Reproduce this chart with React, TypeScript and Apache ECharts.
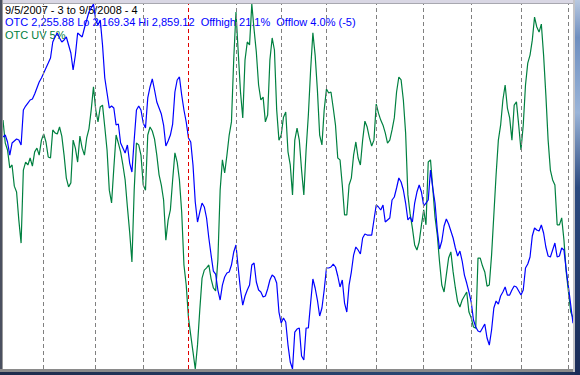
import React, { useEffect, useRef } from "react";
import * as echarts from "echarts";

// OTC (Nasdaq Composite) daily closes, 9/5/2007 .. 9/5/2008
const otcValues = [
  2607.8, 2611.5, 2598.3, 2573.7, 2596.4, 2600.2, 2604.0, 2602.1, 2592.6, 2658.8,
  2666.3, 2672.0, 2677.7, 2679.6, 2689.0, 2700.4, 2711.7, 2719.3, 2728.7, 2738.2,
  2747.6, 2757.1, 2787.3, 2796.8, 2804.3, 2794.9, 2787.3, 2791.1, 2796.8, 2781.6,
  2766.5, 2734.4, 2762.7, 2804.3, 2800.5, 2796.8, 2813.8, 2828.9, 2844.0, 2851.6,
  2859.12, 2828.9, 2819.4, 2828.9, 2781.6, 2719.3, 2690.9, 2662.6, 2666.3, 2662.6,
  2630.4, 2632.3, 2596.4, 2587.0, 2577.5, 2592.6, 2558.6, 2541.6, 2602.1, 2658.8,
  2666.3, 2658.8, 2634.2, 2624.8, 2681.5, 2702.3, 2717.4, 2696.6, 2673.9, 2662.6,
  2651.2, 2630.4, 2590.8, 2600.2, 2611.5, 2632.3, 2692.8, 2715.5, 2721.2, 2687.1,
  2658.8, 2636.1, 2605.9, 2598.3, 2554.8, 2484.9, 2447.1, 2466.0, 2483.0, 2475.5,
  2454.7, 2416.9, 2384.7, 2354.5, 2348.8, 2318.6, 2299.7, 2328.0, 2343.2, 2350.7,
  2352.6, 2365.8, 2390.4, 2403.6, 2360.2, 2318.6, 2290.2, 2307.3, 2318.6, 2328.0,
  2365.8, 2369.6, 2333.7, 2318.6, 2314.8, 2305.4, 2307.3, 2320.5, 2337.5, 2346.9,
  2343.2, 2331.8, 2277.0, 2256.2, 2265.7, 2258.1, 2214.6, 2182.5, 2169.34, 2239.2,
  2244.9, 2246.8, 2193.9, 2186.3, 2246.8, 2246.8, 2294.0, 2339.4, 2322.4, 2299.7,
  2269.5, 2284.6, 2318.6, 2360.2, 2360.2, 2362.1, 2367.7, 2362.1, 2345.1, 2324.3,
  2337.5, 2294.0, 2277.0, 2328.0, 2352.6, 2384.7, 2399.9, 2394.2, 2386.6, 2416.9,
  2424.4, 2422.5, 2422.5, 2422.5, 2450.9, 2479.2, 2475.5, 2469.8, 2479.2, 2447.1,
  2450.9, 2454.7, 2488.7, 2494.4, 2511.4, 2530.3, 2522.7, 2507.6, 2483.0, 2450.9,
  2456.6, 2447.1, 2483.0, 2503.8, 2517.0, 2503.8, 2477.4, 2483.0, 2488.7, 2545.4,
  2511.4, 2483.0, 2432.0, 2396.1, 2411.2, 2439.6, 2452.8, 2443.3, 2430.1, 2416.9,
  2398.0, 2382.9, 2392.3, 2373.4, 2346.9, 2331.8, 2314.8, 2295.9, 2261.9, 2248.7,
  2241.1, 2239.2, 2246.8, 2254.3, 2227.9, 2214.6, 2243.0, 2284.6, 2297.8, 2292.1,
  2307.3, 2314.8, 2324.3, 2309.1, 2309.1, 2318.6, 2326.2, 2324.3, 2316.7, 2309.1,
  2318.6, 2360.2, 2367.7, 2381.0, 2420.7, 2435.8, 2432.0, 2430.1, 2441.4, 2426.3,
  2399.9, 2382.9, 2381.0, 2394.2, 2407.4, 2381.0, 2382.9, 2398.0, 2394.2, 2356.4,
  2324.3, 2290.2, 2255.88,
];

// OTC upside volume 5% EMA, scaled 0..100 of its range
const uvValues = [
  68.2, 61.9, 60.0, 55.1, 55.9, 50.1, 48.5, 40.8, 34.5, 54.5,
  56.7, 55.9, 57.8, 55.6, 59.5, 60.5, 58.6, 62.7, 64.4, 62.2,
  58.1, 57.8, 65.5, 64.7, 64.4, 66.3, 63.8, 58.6, 52.3, 49.9,
  51.0, 62.7, 60.5, 56.7, 63.8, 60.5, 58.6, 63.3, 65.8, 71.0,
  77.3, 71.0, 67.7, 71.8, 72.3, 66.3, 60.0, 49.0, 45.5, 55.1,
  64.1, 61.9, 59.5, 55.9, 51.8, 44.4, 37.5, 29.3, 49.0, 61.9,
  61.4, 58.6, 50.4, 49.0, 64.1, 66.3, 65.2, 63.0, 58.6, 53.2,
  50.4, 46.3, 35.3, 40.8, 43.6, 51.8, 59.2, 56.7, 51.8, 43.0,
  28.5, 23.0, 14.0, 9.3, 4.7, 0.0, 6.6, 16.2, 24.9, 27.1,
  27.7, 28.5, 24.7, 22.2, 21.4, 29.9, 49.0, 57.3, 53.7, 58.6,
  64.1, 67.7, 84.7, 97.8, 86.8, 75.9, 68.8, 84.7, 89.6, 88.8,
  100.0, 93.0, 86.8, 77.8, 73.7, 74.5, 67.7, 69.6, 84.7, 90.7,
  87.4, 71.0, 62.7, 64.1, 69.0, 70.4, 59.5, 55.9, 47.7, 62.7,
  66.0, 62.7, 54.5, 47.7, 60.0, 69.6, 81.9, 92.1, 86.0, 76.4,
  64.1, 61.4, 71.0, 76.7, 75.6, 75.9, 71.5, 66.8, 57.8, 57.3,
  50.4, 42.2, 42.2, 50.4, 52.3, 58.6, 62.2, 57.8, 55.9, 62.7,
  67.9, 66.3, 63.3, 61.1, 62.7, 72.6, 70.1, 68.2, 66.8, 64.7,
  61.9, 62.7, 65.5, 68.8, 75.9, 80.0, 79.2, 73.7, 64.7, 47.7,
  42.5, 38.6, 34.0, 32.6, 34.8, 39.5, 43.6, 39.5, 56.7, 57.3,
  49.6, 41.6, 36.7, 29.3, 23.0, 21.1, 25.8, 30.4, 32.1, 26.6,
  22.2, 18.4, 17.0, 18.9, 20.0, 21.1, 15.6, 14.0, 11.5, 11.2,
  30.4, 30.4, 28.2, 26.6, 22.7, 23.0, 31.2, 42.2, 53.2, 62.7,
  66.8, 73.7, 77.8, 71.5, 68.8, 62.7, 72.3, 73.2, 66.8, 60.0,
  66.8, 77.8, 83.8, 86.0, 90.1, 96.4, 93.7, 92.3, 94.5, 86.0,
  75.1, 62.7, 54.5, 51.8, 50.4, 39.5, 39.5, 41.4, 35.3, 26.6,
  21.1, 15.6, 14.0,
];

// trading-day index of each month start (Oct 07 .. Sep 08); Jan 2 = year boundary
const monthStarts = [18, 41, 62, 82, 103, 123, 143, 165, 186, 207, 229, 250];
const yearStart = 82;

const otcLo = 2169.34;
const otcHi = 2859.12;

const titleLine = "9/5/2007 - 3 to 9/5/2008 - 4";
const otcLine = "OTC 2,255.88 Lo 2,169.34 Hi 2,859.12  Offhigh 21.1%  Offlow 4.0% (-5)";
const uvLine = "OTC UV 5%";

export default function App() {
  const ref = useRef<HTMLDivElement>(null);

  useEffect(() => {
    document.body.style.margin = "0";
    const chart = echarts.init(ref.current!, null, { renderer: "svg" });
    const font = '"Liberation Sans", Arial, sans-serif';
    chart.setOption({
      animation: false,
      backgroundColor: "#ffffff",
      grid: { left: 3, right: 7, top: 4, bottom: 6 },
      xAxis: {
        type: "value",
        min: 0,
        max: otcValues.length - 1,
        show: false,
      },
      yAxis: [
        { type: "value", min: otcLo, max: otcHi, show: false },
        { type: "value", min: 0, max: 100, show: false },
      ],
      graphic: [
        { type: "text", x: 5, y: 4, z: 0, style: { text: titleLine, fill: "#000000", fontSize: 11, fontFamily: font } },
        { type: "text", x: 5, y: 16.5, z: 0, style: { text: otcLine, fill: "#0000ff", fontSize: 11, fontFamily: font } },
        { type: "text", x: 5, y: 29, z: 0, style: { text: uvLine, fill: "#008040", fontSize: 11, fontFamily: font } },
        // window frame
        { type: "rect", z: 100, shape: { x: 0, y: 0, width: 580, height: 3 }, style: { fill: "#d9d7e4" } },
        { type: "rect", z: 100, shape: { x: 0, y: 3, width: 580, height: 1 }, style: { fill: "#a8a8b0" } },
        { type: "rect", z: 100, shape: { x: 0, y: 0, width: 2, height: 375 }, style: { fill: "#4a5060" } },
        { type: "rect", z: 100, shape: { x: 2, y: 0, width: 1, height: 375 }, style: { fill: "#9a9a9a" } },
        { type: "rect", z: 100, shape: { x: 0, y: 369, width: 580, height: 3 }, style: { fill: "#8a8a8a" } },
        {
          type: "rect", z: 100, shape: { x: 0, y: 372, width: 580, height: 3 },
          style: { fill: new echarts.graphic.LinearGradient(0, 0, 1, 0, [
            { offset: 0, color: "#1e2c4c" }, { offset: 0.8, color: "#2a4a78" }, { offset: 1, color: "#1e3058" },
          ]) },
        },
        { type: "rect", z: 100, shape: { x: 573, y: 0, width: 2, height: 372 }, style: { fill: "#c4c4c8" } },
        {
          type: "rect", z: 100, shape: { x: 575, y: 0, width: 5, height: 375 },
          style: { fill: new echarts.graphic.LinearGradient(0, 0, 0, 1, [
            { offset: 0, color: "#b8c8e0" }, { offset: 0.1, color: "#6f8fc0" },
            { offset: 0.3, color: "#9ab4d8" }, { offset: 0.5, color: "#2c4a80" }, { offset: 1, color: "#1a2c58" },
          ]) },
        },
      ],
      series: [
        {
          type: "line",
          data: [],
          z: 1,
          silent: true,
          markLine: {
            silent: true,
            symbol: "none",
            label: { show: false },
            lineStyle: { color: "#808080", type: [4, 3], width: 1 },
            data: monthStarts.map((m) => ({
              xAxis: m,
              lineStyle: m === yearStart ? { color: "#e00000", type: [4, 3], width: 1 } : undefined,
            })),
          },
        },
        {
          name: "OTC",
          type: "line",
          yAxisIndex: 0,
          data: otcValues.map((v, i) => [i, v]),
          showSymbol: false,
          lineStyle: { color: "#0000ff", width: 1.2 },
          z: 3,
        },
        {
          name: "OTC UV 5%",
          type: "line",
          yAxisIndex: 1,
          data: uvValues.map((v, i) => [i, v]),
          showSymbol: false,
          lineStyle: { color: "#008040", width: 1.2 },
          z: 2,
        },
      ],
    });
    return () => chart.dispose();
  }, []);

  return <div ref={ref} style={{ position: "absolute", left: 0, top: 0, width: 580, height: 375 }} />;
}
